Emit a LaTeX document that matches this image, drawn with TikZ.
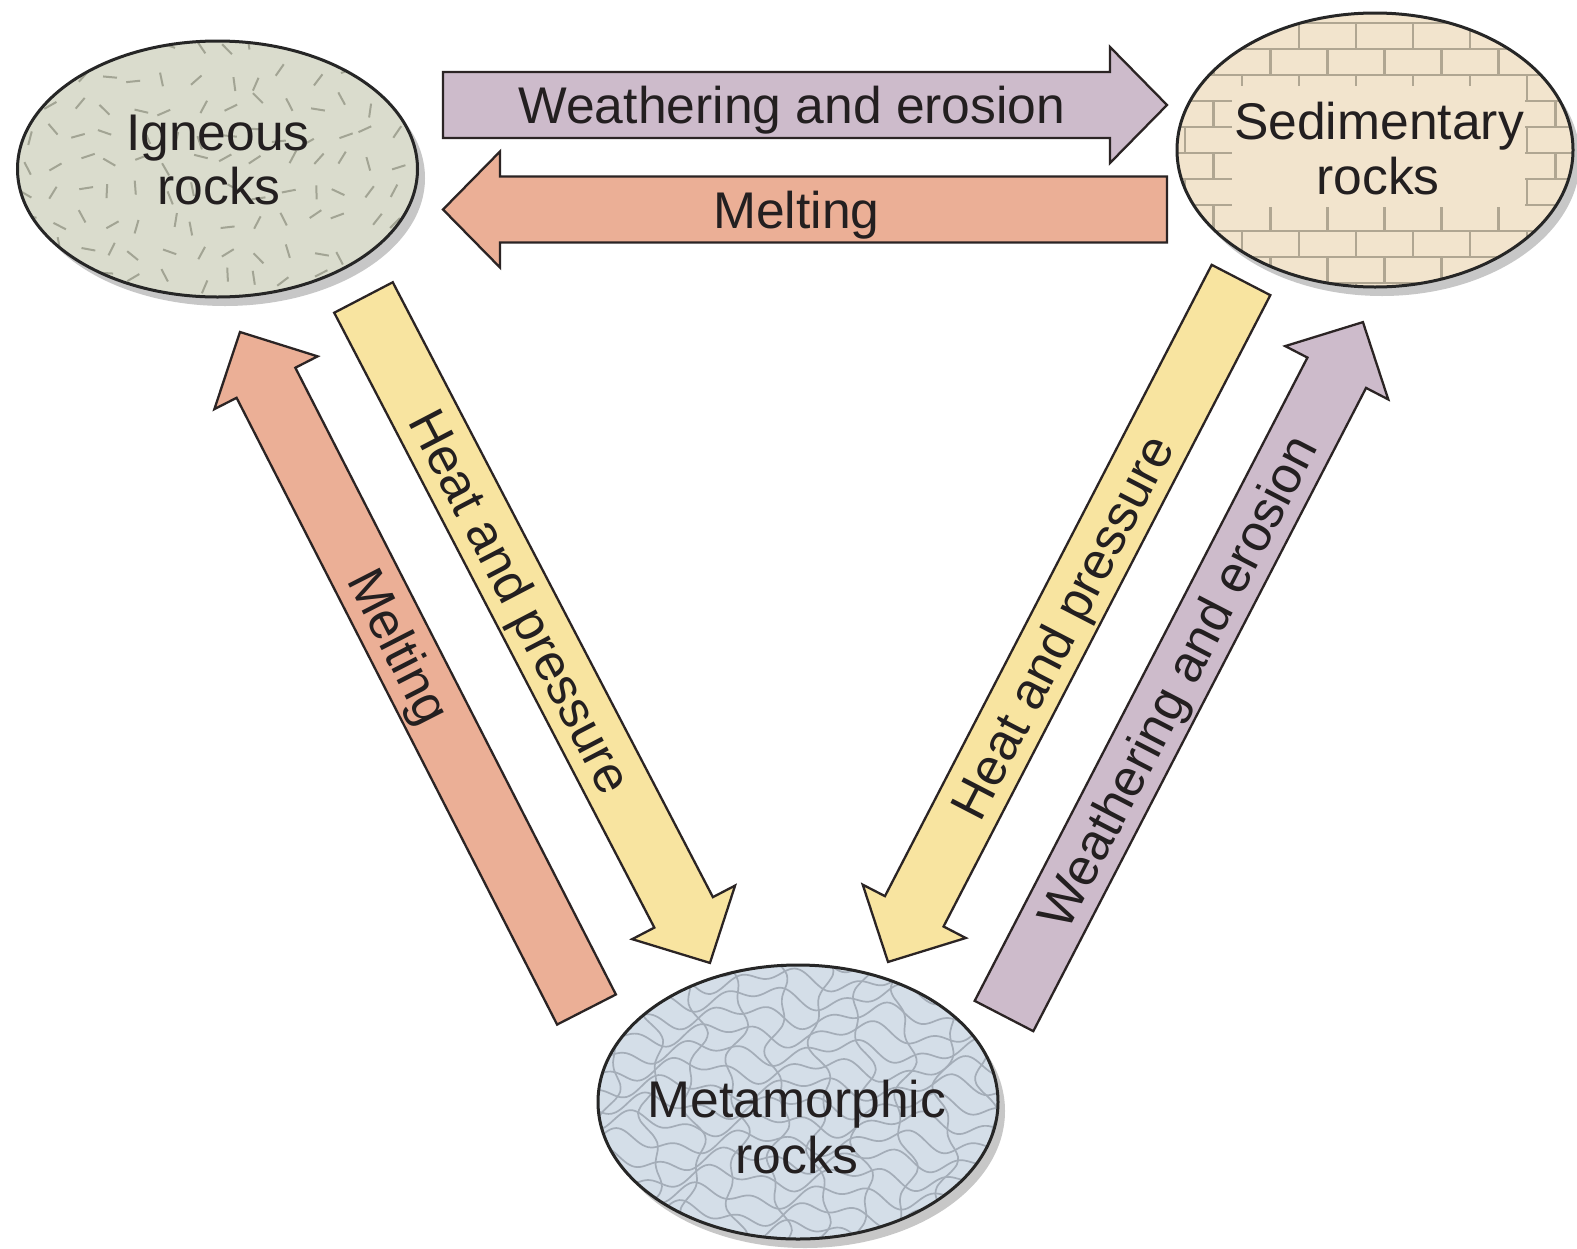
\documentclass[tikz,border=0pt]{standalone}
\usepackage{fontspec}
\setmainfont{Liberation Sans}
\usetikzlibrary{shapes.geometric}

\definecolor{purpfill}{HTML}{CDBBCB}
\definecolor{orangefill}{HTML}{EBAF96}
\definecolor{yellowfill}{HTML}{F8E4A0}
\definecolor{ignfill}{HTML}{DADCCD}
\definecolor{sedfill}{HTML}{F2E4CD}
\definecolor{metfill}{HTML}{D4DEE8}
\definecolor{outl}{HTML}{2B2424}
\definecolor{txt}{HTML}{231F20}
\definecolor{igndashc}{HTML}{A2A494}
\definecolor{brickc}{HTML}{B0A692}
\definecolor{metlinec}{HTML}{A4ADB8}

\tikzset{
  rock/.style={ellipse, inner sep=0pt, fill=#1},
  rockborder/.style={draw=black!85, line width=3pt},
  rockshadow/.style={fill=black!40, opacity=0.55},
  blockarr/.style={draw=outl, line width=2.3pt, fill=#1, line join=miter},
  lbl/.style={font=\fontsize{51.6pt}{56pt}\selectfont, text=txt, inner sep=0pt, text height=37pt, text depth=0pt},
  rocklbl/.style={font=\fontsize{51.6pt}{56pt}\selectfont, text=txt, inner sep=0pt, anchor=base},
  igndash/.style={draw=igndashc, line width=2pt},
  brickline/.style={draw=brickc, line width=2.4pt},
  metline/.style={draw=metlinec, line width=1.7pt}
}

\newcommand\blockarrow[3]{%
  \pgfpointdiff{\pgfpointanchor{#1}{center}}{\pgfpointanchor{#2}{center}}%
  \pgfgetlastxy{\bax}{\bay}%
  \pgfmathsetmacro\balen{veclen(\bax,\bay)}%
  \pgfmathsetmacro\baang{atan2(\bay,\bax)}%
  \pgfmathsetmacro\babase{\balen-57}%
  \begin{scope}[shift={(#1)}, rotate=\baang]
    \draw[blockarr=#3] (0,-33) -- (\babase,-33) -- (\babase,-58) -- (\balen,0)
      -- (\babase,58) -- (\babase,33) -- (0,33) -- cycle;
  \end{scope}}

\begin{document}
\begin{tikzpicture}[x=1pt, y=-1pt]
\useasboundingbox (0,0) rectangle (1577,1248);
\fill[white] (0,0) rectangle (1577,1248);

% ---------- rocks: shadows ----------
\fill[rockshadow] (225,178) ellipse [x radius=200, y radius=128];
\fill[rockshadow] (1382,159) ellipse [x radius=198, y radius=137];
\fill[rockshadow] (805,1111) ellipse [x radius=200, y radius=137];

% ---------- rock nodes ----------
\node[rock=ignfill, minimum width=400pt, minimum height=256pt] (ign) at (217.5,169) {};
\node[rock=sedfill, minimum width=396pt, minimum height=274pt] (sed) at (1375,150) {};
\node[rock=metfill, minimum width=400pt, minimum height=274pt] (met) at (798,1102) {};

% igneous texture
\begin{scope}
  \clip (ign.center) ellipse [x radius=200, y radius=128];
  \pgfmathsetseed{7}
  \foreach \i in {0,...,13}{
    \foreach \j in {0,...,8}{
      \pgfmathsetmacro\px{24+\i*29+rand*8}
      \pgfmathsetmacro\py{48+\j*29+rand*8}
      \pgfmathsetmacro\pa{rnd*180}
      \draw[igndash] (\px,\py) +(\pa:7) -- +(\pa+180:7);
    }}
\end{scope}

% sedimentary bricks
\begin{scope}
  \clip (sed.center) ellipse [x radius=198, y radius=137];
  \foreach \k in {0,...,10}{
    \pgfmathsetmacro\yy{23+\k*26}
    \draw[brickline] (1170,\yy) -- (1580,\yy);
    \pgfmathsetmacro\off{mod(\k,2)*28.5}
    \foreach \m in {0,...,7}{
      \pgfmathsetmacro\xx{1185+\off+\m*57}
      \draw[brickline] (\xx,\yy) -- (\xx,\yy+26);
    }
    \draw[brickline] (1170,\yy-26) -- (1170,\yy-26);
  }
  \fill[sedfill] (1232,86) rectangle (1525,207);
\end{scope}

% metamorphic contours
\begin{scope}
  \clip (met.center) ellipse [x radius=200, y radius=137];
  \foreach \k in {0,...,16}{
    \draw[metline] plot[domain=590:1005, samples=80, smooth]
      (\x, {962+\k*18+8*sin(2.6*\x+47*\k)+6*sin(6.1*\x+83*\k)});
  }
  \foreach \k in {0,...,9}{
    \draw[metline] plot[variable=\t, domain=960:1245, samples=40, smooth]
      ({610+\k*42+9*sin(3.1*\t+61*\k)+5*sin(7*\t+29*\k)}, \t);
  }
\end{scope}

% rock borders
\draw[rockborder] (ign.center) ellipse [x radius=200, y radius=128];
\draw[rockborder] (sed.center) ellipse [x radius=198, y radius=137];
\draw[rockborder] (met.center) ellipse [x radius=200, y radius=137];

% rock labels
\node[rocklbl] (ign1) at (218,150) {Igneous};
\node[rocklbl] (ign2) at (219,204) {rocks};
\node[rocklbl] (sed1) at (1379,139) {Sedimentary};
\node[rocklbl] (sed2) at (1378,194) {rocks};
\node[rocklbl] (met1) at (797,1117) {Metamorphic};
\node[rocklbl] (met2) at (797,1173) {rocks};

% ---------- arrow end points ----------
\coordinate (we1s) at (443,105);    \coordinate (we1e) at (1167,105);
\coordinate (me1s) at (1167,209.5); \coordinate (me1e) at (443,209.5);
\coordinate (me2s) at (586.5,1009.5); \coordinate (me2e) at (240,332);
\coordinate (hp1s) at (363.5,297.5);  \coordinate (hp1e) at (710,963);
\coordinate (hp2s) at (1241,280);     \coordinate (hp2e) at (888,962);
\coordinate (we2s) at (1004,1016);    \coordinate (we2e) at (1363,322);

% ---------- block arrows ----------
\blockarrow{we1s}{we1e}{purpfill}
\blockarrow{me1s}{me1e}{orangefill}
\blockarrow{me2s}{me2e}{orangefill}
\blockarrow{hp1s}{hp1e}{yellowfill}
\blockarrow{hp2s}{hp2e}{yellowfill}
\blockarrow{we2s}{we2e}{purpfill}

% ---------- arrow labels ----------
\path (we1s) -- (we1e) node[lbl, sloped, pos=0.482] (twe1) {Weathering and erosion};
\path (me1s) -- (me1e) node[lbl, sloped, pos=0.512] (tme1) {Melting};
\path (me2s) -- (me2e) node[lbl, sloped, pos=0.537] (tme2) {Melting};
\path (hp1s) -- (hp1e) node[lbl, sloped, pos=0.456] (thp1) {Heat and pressure};
\path (hp2s) -- (hp2e) node[lbl, sloped, pos=0.508] (thp2) {Heat and pressure};
\path (we2s) -- (we2e) node[lbl, sloped, pos=0.482] (twe2) {Weathering and erosion};
\end{tikzpicture}
\end{document}
